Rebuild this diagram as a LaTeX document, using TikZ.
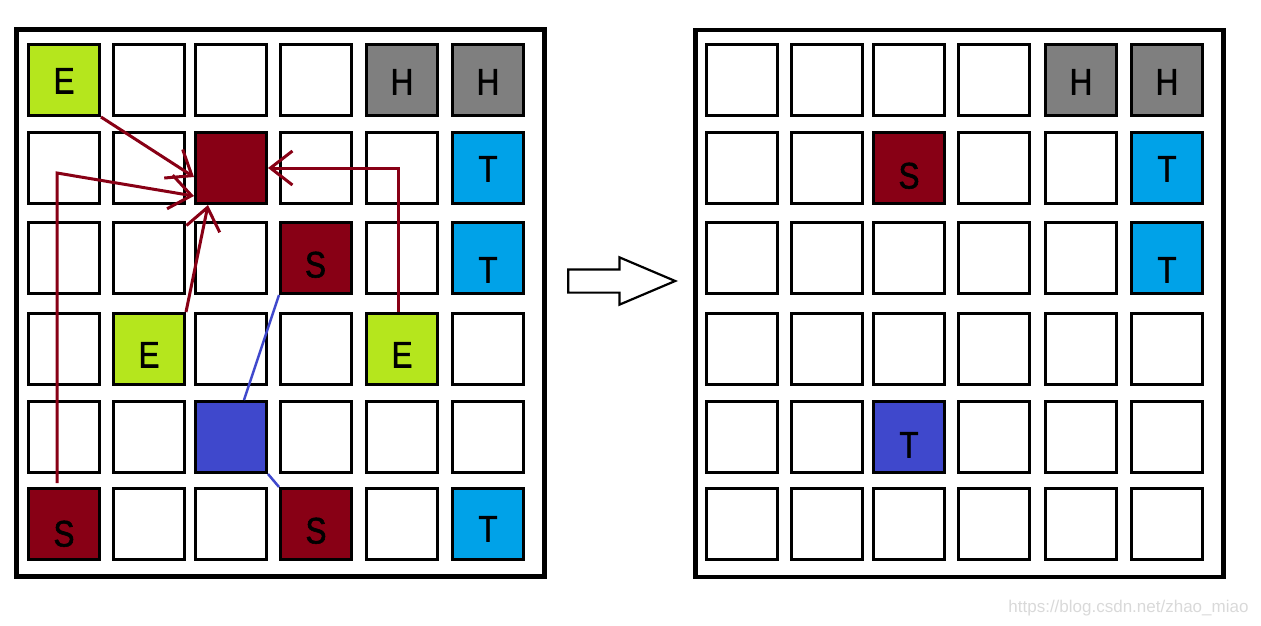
\documentclass[tikz,border=0pt]{standalone}
\usepackage{fontspec}
\setmainfont{Liberation Sans}
\newfontfamily\cellfont[FakeStretch=0.85, FakeBold=1.5]{Liberation Sans}
\usetikzlibrary{shapes.arrows, arrows.meta, positioning, calc}

\definecolor{paintlime}{HTML}{B5E61D}
\definecolor{paintgray}{HTML}{7F7F7F}
\definecolor{paintred}{HTML}{880015}
\definecolor{paintsky}{HTML}{00A2E8}
\definecolor{paintblue}{HTML}{3F48CC}

\begin{document}
\begin{tikzpicture}[
    x=1pt, y=-1pt,
    board/.style={rectangle, draw=black, line width=4.5pt, minimum width=528pt, minimum height=547pt, inner sep=0pt},
    cell/.style={rectangle, draw=black, line width=3pt, minimum size=71pt, inner sep=0pt, font=\cellfont\fontsize{37}{37}\selectfont},
    tag/.style={text height=#1, text depth=0pt},
    tag/.default=39pt,
    move/.style={draw=paintred, line width=3pt, -{Straight Barb[length=22pt,width=34pt]}},
    slide/.style={draw=paintblue, line width=2.5pt},
    block/.style={single arrow, draw=black, line width=2.2pt, fill=white, minimum height=107pt, inner xsep=0pt, inner ysep=10.5pt, single arrow head extend=12pt, single arrow tip angle=46}
]

\useasboundingbox (0,0) rectangle (1261,626);

% Boards
\node[board] (left) at (280.5,303) {};
\node[board] (right) at (959.5,303.5) {};

% Left board cells
\foreach \y [count=\r] in {80,168,258,349,437,524}
  \foreach \x [count=\c] in {64,149,231,316,402,488}
    \node[cell] (L-\r-\c) at (\x,\y) {};

% Right board cells
\foreach \y [count=\r] in {80,168,258,349,437,524}
  \foreach \x [count=\c] in {742,827,909,994,1081,1167}
    \node[cell] (R-\r-\c) at (\x,\y) {};

% Marked cells, left
\node[cell, fill=paintlime, tag=27pt] (lE1) at (L-1-1) {E\hspace{10pt}};
\node[cell, fill=paintgray, tag=29pt] (lH1) at (L-1-5) {H};
\node[cell, fill=paintgray, tag=29pt] (lH2) at (L-1-6) {H};
\node[cell, fill=paintred] (target) at (L-2-3) {};
\node[cell, fill=paintsky, tag=27pt] (lT1) at (L-2-6) {T};
\node[cell, fill=paintred, tag] (lS2) at (L-3-4) {\hspace{-1pt}S\hspace{9pt}};
\node[cell, fill=paintsky, tag=49pt] (lT2) at (L-3-6) {T};
\node[cell, fill=paintlime, tag=37pt] (lE2) at (L-4-2) {E};
\node[cell, fill=paintlime, tag=37pt] (lE3) at (L-4-5) {E\hspace{10pt}};
\node[cell, fill=paintblue] (hole) at (L-5-3) {};
\node[cell, fill=paintred, tag=45pt] (lS1) at (L-6-1) {S\hspace{12pt}};
\node[cell, fill=paintred, tag] (lS3) at (L-6-4) {S};
\node[cell, fill=paintsky, tag=35pt] (lT3) at (L-6-6) {T};

% Marked cells, right
\node[cell, fill=paintgray, tag=29pt] (rH1) at (R-1-5) {H};
\node[cell, fill=paintgray, tag=29pt] (rH2) at (R-1-6) {H};
\node[cell, fill=paintred, tag=41pt] (rS1) at (R-2-3) {S\hspace{6pt}};
\node[cell, fill=paintsky, tag=27pt] (rT1) at (R-2-6) {T};
\node[cell, fill=paintsky, tag=49pt] (rT2) at (R-3-6) {T};
\node[cell, fill=paintblue, tag=41pt] (rT3) at (R-5-3) {T};

% Step arrow
\node[block, anchor=tip] (go) at (678,281) {};

% Moves to the target
\coordinate (bend) at (57,173);
\draw[move] (lE1.south east) -- ([yshift=-9pt]target.west);
\draw[move] ([xshift=-7pt,yshift=4pt]lS1.north) -- (bend) -- ([yshift=-28pt]target.west);
\draw[move] (lE2.north east) -- ([xshift=-23pt]target.south);
\draw[move] ([xshift=-4pt]lE3.north) |- (target.east);

% Slide through the hole
\draw[slide] (lS2.south west) -- ([xshift=13pt]hole.north);
\draw[slide] (hole.south east) -- (lS3.north west);

% Watermark
\node[anchor=east, text=black!15, font=\fontsize{17}{17}\selectfont] (mark) at (1252,608) {https://blog.csdn.net/zhao\_miao};

\end{tikzpicture}
\end{document}
